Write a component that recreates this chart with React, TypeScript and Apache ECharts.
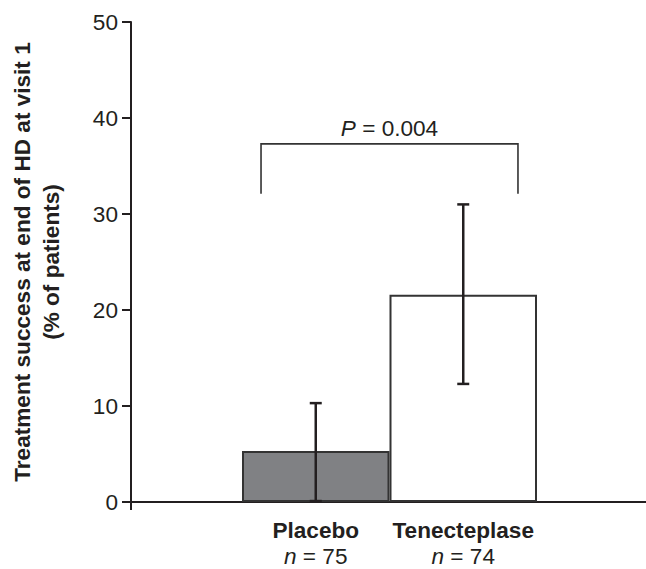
import React, { useEffect, useRef } from "react";
import * as echarts from "echarts";

const categories = ["Placebo", "Tenecteplase"];
const sampleSizes = ["75", "74"];
const successRate = [5.3, 21.6];
const ciLow = [0.1, 12.3];
const ciHigh = [10.3, 31.0];
const barColors = ["#808184", "#ffffff"];
const yMin = 0;
const yMax = 50;
const yInterval = 10;
const bracketLow = 32.1;
const bracketHigh = 37.3;
const pValueText = "0.004";

const FONT = '"Liberation Sans", Arial, Helvetica, sans-serif';
const INK = "#231f20";
const FS = 22.6;

export default function App() {
  const ref = useRef<HTMLDivElement>(null);

  useEffect(() => {
    if (!ref.current) return;
    const chart = echarts.init(ref.current, undefined, { renderer: "svg" });

    const gridTop = 22;
    const gridBottom = 67;

    const option: any = {
      animation: false,
      backgroundColor: "#ffffff",
      textStyle: { fontFamily: FONT, color: INK },
      grid: [
        { left: 131, right: 0, top: gridTop, bottom: gridBottom },
        { left: 242, right: 109, top: gridTop, bottom: gridBottom },
      ],
      xAxis: [
        {
          type: "value",
          gridIndex: 0,
          min: 0,
          max: 1,
          interval: 1,
          axisLine: { show: true, lineStyle: { color: INK, width: 2 } },
          axisTick: {
            show: true,
            customValues: [0],
            length: 8,
            lineStyle: { color: INK, width: 2 },
          },
          axisLabel: { show: false },
          splitLine: { show: false },
        },
        {
          type: "category",
          gridIndex: 1,
          data: categories,
          axisLine: { show: false },
          axisTick: { show: false },
          axisLabel: {
            margin: 15,
            interval: 0,
            formatter: (value: string, idx: number) =>
              `{b|${value}}\n{i|n}{r| = ${sampleSizes[idx]}}`,
            rich: {
              b: {
                fontFamily: FONT,
                fontWeight: "bold",
                fontSize: FS,
                color: INK,
                lineHeight: 26,
              },
              i: {
                fontFamily: FONT,
                fontStyle: "italic",
                fontSize: FS,
                color: INK,
                lineHeight: 26,
              },
              r: {
                fontFamily: FONT,
                fontSize: FS,
                color: INK,
                lineHeight: 26,
              },
            },
          },
        },
      ],
      yAxis: [
        {
          type: "value",
          gridIndex: 0,
          min: yMin,
          max: yMax,
          interval: yInterval,
          name: "Treatment success at end of HD at visit 1\n(% of patients)",
          nameLocation: "middle",
          nameGap: 65,
          nameRotate: 90,
          nameTextStyle: {
            fontFamily: FONT,
            fontWeight: "bold",
            fontSize: FS,
            color: INK,
            lineHeight: 29,
          },
          axisLine: { show: true, lineStyle: { color: INK, width: 2 } },
          axisTick: { show: true, length: 9, lineStyle: { color: INK, width: 2 } },
          axisLabel: {
            margin: 13,
            fontFamily: FONT,
            fontSize: FS,
            color: INK,
          },
          splitLine: { show: false },
        },
        {
          type: "value",
          gridIndex: 1,
          min: yMin,
          max: yMax,
          interval: yInterval,
          show: false,
          splitLine: { show: false },
        },
      ],
      series: [
        {
          type: "bar",
          xAxisIndex: 1,
          yAxisIndex: 1,
          barWidth: "100%",
          barGap: "0%",
          data: successRate.map((v, i) => ({
            value: v,
            itemStyle: {
              color: barColors[i],
              borderColor: "#333333",
              borderWidth: 2,
            },
          })),
          z: 2,
        },
        {
          type: "custom",
          xAxisIndex: 1,
          yAxisIndex: 1,
          z: 5,
          encode: { x: 0, y: [1, 2] },
          data: categories.map((_, i) => [i, ciLow[i], ciHigh[i]]),
          renderItem: (params: any, api: any) => {
            const x = api.value(0);
            const lo = api.coord([x, api.value(1)]);
            const hi = api.coord([x, api.value(2)]);
            const cap = 6;
            const style = { stroke: INK, lineWidth: 2.5 };
            return {
              type: "group",
              children: [
                { type: "line", shape: { x1: lo[0], y1: lo[1], x2: hi[0], y2: hi[1] }, style },
                { type: "line", shape: { x1: hi[0] - cap, y1: hi[1], x2: hi[0] + cap, y2: hi[1] }, style },
                { type: "line", shape: { x1: lo[0] - cap, y1: lo[1], x2: lo[0] + cap, y2: lo[1] }, style },
              ],
            };
          },
        },
        {
          type: "custom",
          xAxisIndex: 1,
          yAxisIndex: 1,
          z: 5,
          encode: { x: 0, y: [2, 3] },
          data: [[0, 1, bracketLow, bracketHigh]],
          renderItem: (params: any, api: any) => {
            const a = api.coord([api.value(0), api.value(3)]);
            const b = api.coord([api.value(1), api.value(3)]);
            const lowY = api.coord([api.value(0), api.value(2)])[1];
            const bw = api.size([1, 0])[0];
            const lx = a[0] - bw * 0.371;
            const rx = b[0] + bw * 0.371;
            const ty = a[1];
            return {
              type: "group",
              children: [
                {
                  type: "polyline",
                  shape: {
                    points: [
                      [lx, lowY],
                      [lx, ty],
                      [rx, ty],
                      [rx, lowY],
                    ],
                  },
                  style: { stroke: "#333333", lineWidth: 1.6, fill: "none" },
                },
                {
                  type: "text",
                  x: (lx + rx) / 2,
                  y: ty - 15,
                  style: {
                    text: `{i|P}{r| = ${pValueText}}`,
                    align: "center",
                    verticalAlign: "middle",
                    rich: {
                      i: { fontFamily: FONT, fontStyle: "italic", fontSize: FS, fill: INK },
                      r: { fontFamily: FONT, fontSize: FS, fill: INK },
                    },
                  },
                },
              ],
            };
          },
        },
      ],
    };

    chart.setOption(option);
    return () => chart.dispose();
  }, []);

  return (
    <div
      ref={ref}
      style={{ position: "absolute", left: 0, top: 0, width: 646, height: 569 }}
    />
  );
}
